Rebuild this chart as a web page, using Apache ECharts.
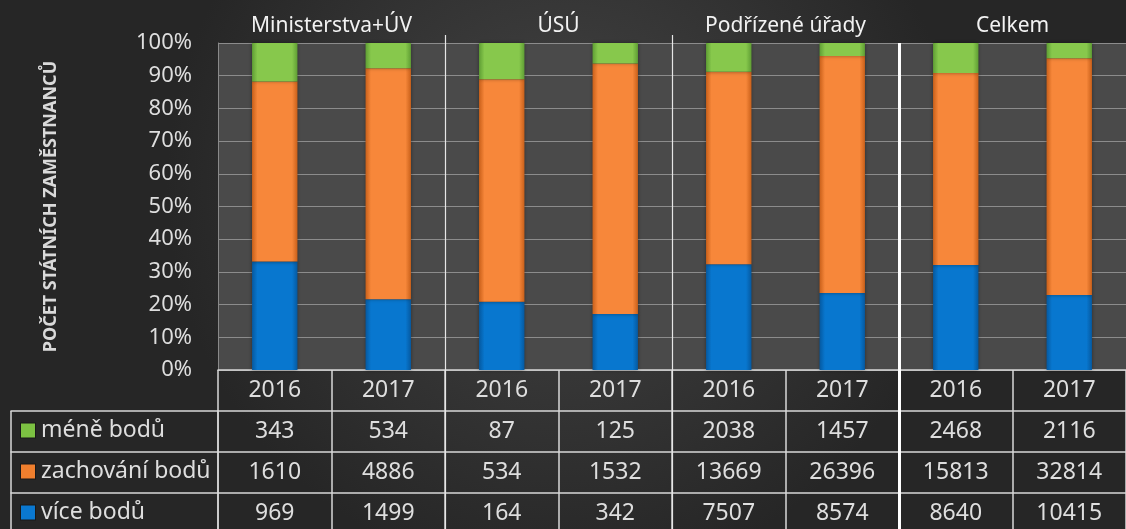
<!DOCTYPE html>
<html>
<head>
<meta charset="utf-8">
<script src="https://cdn.jsdelivr.net/npm/echarts@6/dist/echarts.min.js"></script>
<style>
html,body{margin:0;padding:0;background:#2b2b2b;}
#c{width:1126px;height:529px;}
</style>
</head>
<body>
<div id="c"></div>
<script>
// ---- data ----
const groups = ['Ministerstva+ÚV', 'ÚSÚ', 'Podřízené úřady', 'Celkem'];
const years = ['2016', '2017', '2016', '2017', '2016', '2017', '2016', '2017'];
const seriesNames = ['méně bodů', 'zachování bodů', 'více bodů'];
const meneBodu = [343, 534, 87, 125, 2038, 1457, 2468, 2116];
const zachovaniBodu = [1610, 4886, 534, 1532, 13669, 26396, 15813, 32814];
const viceBodu = [969, 1499, 164, 342, 7507, 8574, 8640, 10415];
const yTicks = [0, 10, 20, 30, 40, 50, 60, 70, 80, 90, 100];

// ---- derived ----
const totals = years.map((_, i) => meneBodu[i] + zachovaniBodu[i] + viceBodu[i]);
const pct = arr => arr.map((v, i) => v / totals[i] * 100);

const FONT = '"Noto Sans", "Open Sans", sans-serif';
const TXT = '#dedede';
const LINE = '#d8d8d8';

function barGrad(edge, mid) {
  return new echarts.graphic.LinearGradient(0, 0, 1, 0, [
    {offset: 0, color: edge}, {offset: 0.12, color: mid},
    {offset: 0.88, color: mid}, {offset: 1, color: edge}
  ]);
}
const colBlue = barGrad('#0559a0', '#0877cf');
const colOrange = barGrad('#c9601a', '#f7873a');
const colGreen = barGrad('#5f9e34', '#87c84c');

const rowData = [meneBodu, zachovaniBodu, viceBodu];
const iconColors = ['#7cc142', '#f07f2e', '#0a78d0'];
const iconKeys = ['g', 'o', 'b'];
const ROW_H = 41;
const TFS = 23;

const chart = echarts.init(document.getElementById('c'));

const xAxes = [];
// 0: main category axis (years) -> header row of table
xAxes.push({
  type: 'category', gridIndex: 0, data: years, position: 'bottom', offset: 0,
  axisLine: {show: true, onZero: false, lineStyle: {color: LINE, width: 1.5}},
  axisTick: {show: true, length: ROW_H, interval: 0, lineStyle: {color: LINE, width: 1.5}},
  axisLabel: {color: TXT, fontFamily: FONT, fontSize: TFS, margin: 9, interval: 0},
  splitLine: {show: false}
});
// 1..3: data rows of the table
rowData.forEach((arr, r) => {
  xAxes.push({
    type: 'category', gridIndex: 0, data: arr.map(String), position: 'bottom', offset: ROW_H * (r + 1),
    axisLine: {show: true, onZero: false, lineStyle: {color: LINE, width: 1.5}},
    axisTick: {show: true, length: ROW_H, interval: 0, lineStyle: {color: LINE, width: 1.5}},
    axisLabel: {color: TXT, fontFamily: FONT, fontSize: TFS, margin: 9, interval: 0},
    splitLine: {show: false}
  });
});
// 4: group titles at top
xAxes.push({
  type: 'category', gridIndex: 0, data: groups, position: 'top', offset: 0,
  axisLine: {show: false, onZero: false}, axisTick: {show: false},
  axisLabel: {color: '#f2f2f2', fontFamily: FONT, fontSize: 21, margin: 6, interval: 0},
  splitLine: {show: false}
});
// 5: thin group separators (value scale 0..8, one unit per column)
xAxes.push({
  type: 'value', gridIndex: 0, min: 0, max: years.length, interval: 2, position: 'top', offset: 8,
  axisLine: {show: false, onZero: false}, axisLabel: {show: false}, splitLine: {show: false},
  axisTick: {show: true, inside: true, length: 494, customValues: [2, 4], lineStyle: {color: '#e6e6e6', width: 1.2}}
});
// 6: thick separator before "Celkem"
xAxes.push({
  type: 'value', gridIndex: 0, min: 0, max: years.length, interval: 2, position: 'top', offset: 0,
  axisLine: {show: false, onZero: false}, axisLabel: {show: false}, splitLine: {show: false},
  axisTick: {show: true, inside: true, length: 490, customValues: [6], lineStyle: {color: '#ffffff', width: 3}}
});
// 7..9: left label column of the table (grid 1)
const rich = {};
iconKeys.forEach((k, i) => {
  rich[k] = {width: 14, height: 14, backgroundColor: iconColors[i], borderColor: 'rgba(0,0,0,0.35)', borderWidth: 1};
});
rich.t = {color: TXT, fontFamily: FONT, fontSize: TFS, padding: [0, 0, 0, 6]};
seriesNames.forEach((name, r) => {
  xAxes.push({
    type: 'value', gridIndex: 1, min: 0, max: 1, interval: 1, position: 'bottom', offset: ROW_H * (r + 1),
    axisLine: {show: true, onZero: false, lineStyle: {color: LINE, width: 1.5}},
    axisTick: {show: true, length: ROW_H, customValues: [0, 1], lineStyle: {color: LINE, width: 1.5}},
    axisLabel: {
      show: true, customValues: [0], align: 'left', margin: 8, padding: [0, 0, 0, 10],
      formatter: () => '{' + iconKeys[r] + '|}{t|' + name + '}', rich: rich
    },
    splitLine: {show: false}
  });
});

const option = {
  animation: false,
  backgroundColor: new echarts.graphic.RadialGradient(0.5, 0.35, 0.75, [
    {offset: 0, color: '#454545'}, {offset: 1, color: '#262626'}
  ]),
  grid: [
    {left: 218, right: -12, top: 43, bottom: 159, show: true, backgroundColor: '#4a4a4a', borderWidth: 0},
    {left: 11, width: 207, top: 43, bottom: 159, show: false}
  ],
  xAxis: xAxes,
  yAxis: [
    {
      type: 'value', gridIndex: 0, min: 0, max: 100, interval: 10,
      name: 'POČET STÁTNÍCH ZAMĚSTNANCŮ', nameLocation: 'middle', nameGap: 158,
      nameTextStyle: {color: '#d9d9d9', fontFamily: FONT, fontSize: 18, fontWeight: 'bold'},
      axisLine: {show: true, onZero: false, lineStyle: {color: '#8a8a8a', width: 1}},
      axisTick: {show: false},
      axisLabel: {color: TXT, fontFamily: FONT, fontSize: 22, margin: 26, formatter: v => yTicks.includes(v) ? v + '%' : ''},
      splitLine: {show: true, lineStyle: {color: '#8c8c8c', width: 1.2}}
    },
    {type: 'value', gridIndex: 1, min: 0, max: 1, show: false}
  ],
  series: [
    {name: seriesNames[2], type: 'bar', stack: 's', xAxisIndex: 0, yAxisIndex: 0, barWidth: '40%',
      data: pct(viceBodu), itemStyle: {color: colBlue, shadowColor: 'rgba(0,0,0,0.4)', shadowBlur: 4}},
    {name: seriesNames[1], type: 'bar', stack: 's', xAxisIndex: 0, yAxisIndex: 0, barWidth: '40%',
      data: pct(zachovaniBodu), itemStyle: {color: colOrange, shadowColor: 'rgba(0,0,0,0.4)', shadowBlur: 4}},
    {name: seriesNames[0], type: 'bar', stack: 's', xAxisIndex: 0, yAxisIndex: 0, barWidth: '40%',
      data: pct(meneBodu), itemStyle: {color: colGreen, shadowColor: 'rgba(0,0,0,0.4)', shadowBlur: 4}}
  ]
};
chart.setOption(option);
</script>
</body>
</html>
